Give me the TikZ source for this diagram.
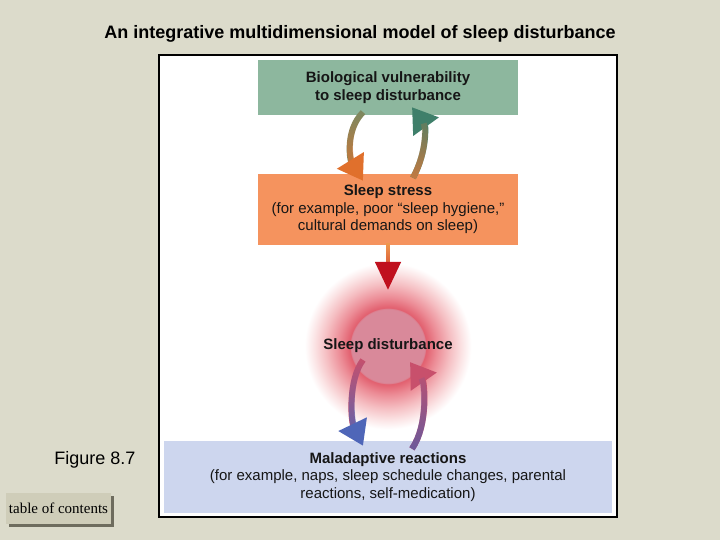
\documentclass[tikz,border=0pt]{standalone}
\usepackage{fontspec}
\setmainfont{Liberation Sans}
\newfontfamily\btnfont{Liberation Serif}
\usetikzlibrary{arrows.meta,fadings}
\definecolor{bgcol}{HTML}{DCDBCB}
\definecolor{greenbox}{HTML}{8DB79E}
\definecolor{orangebox}{HTML}{F5935E}
\definecolor{bluebox}{HTML}{CDD6EE}
\definecolor{txt}{HTML}{161616}
\definecolor{arrgreen}{HTML}{3F7F6A}
\definecolor{arrolive}{HTML}{7A8A62}
\definecolor{arrorange}{HTML}{E0702C}
\definecolor{arrbrown}{HTML}{C87A40}
\definecolor{arrlight}{HTML}{F2A050}
\definecolor{arrred}{HTML}{C0101E}
\definecolor{arrpink}{HTML}{C8506C}
\definecolor{arrblue}{HTML}{4F66B8}
\definecolor{arrpurple}{HTML}{6A5A9C}
\definecolor{btnfill}{HTML}{CFCDB9}
\definecolor{btnshadow}{HTML}{6E6C5E}
\definecolor{discin}{HTML}{D9899A}
\definecolor{glowred}{HTML}{E2606F}
\definecolor{glowmid}{HTML}{EC8C96}
\definecolor{glowlight}{HTML}{F5BEC2}
\definecolor{glowpale}{HTML}{FBE4E5}
\pgfdeclareradialshading{glow}{\pgfpoint{0bp}{0bp}}{color(0bp)=(discin); color(11.0bp)=(discin); color(11.4bp)=(glowred); color(14.5bp)=(glowmid); color(18.5bp)=(glowlight); color(22bp)=(glowpale); color(24.8bp)=(white); color(50bp)=(white)}
\tikzset{
  box/.style={fill=#1, draw=none, inner sep=0pt, align=center, text=txt,
    font=\fontsize{15}{17.5}\selectfont},
  % #1 colour at the top, #2 colour at the bottom, #3 colour of the head
  gradarr/.style n args={3}{line width=6pt, draw=#1,
    -{Triangle[width=30pt,length=24pt,color=#3]},
    postaction={draw=#2, path fading=north, arrows=-, shorten >=20pt}},
}
\begin{document}
\begin{tikzpicture}[x=1pt,y=-1pt]
\useasboundingbox (0,0) rectangle (720,540);
\fill[bgcol] (0,0) rectangle (720,540);
% title
\node[font=\bfseries\fontsize{18}{20}\selectfont, text=black] (title) at (360,34) {An integrative multidimensional model of sleep disturbance};
% frame
\draw[line width=2pt, fill=white] (159,55) rectangle (617,517);
% boxes
\node[box=greenbox, minimum width=260pt, minimum height=55pt] (bio) at (388,87.5)
  {\textbf{Biological vulnerability}\\\textbf{to sleep disturbance}};
\node[box=orangebox, minimum width=260pt, minimum height=71pt] (stress) at (388,209.5)
  {\textbf{Sleep stress}\\(for example, poor “sleep hygiene,”\\cultural demands on sleep)};
\node[box=bluebox, minimum width=448pt, minimum height=72pt] (mal) at (388,477)
  {\textbf{Maladaptive reactions}\\(for example, naps, sleep schedule changes, parental\\reactions, self-medication)};
% glow and disc
\shade[shading=glow] (388,346) circle (84);
\node[circle, minimum size=74pt, inner sep=0pt, text=txt,
  font=\bfseries\fontsize{15}{17.5}\selectfont] (dist) at (388,346) {Sleep disturbance};
% arrows (the two leading move-tos only widen the box that the colour fading fits)
\draw[gradarr={arrolive}{arrorange}{arrorange}]
  ([xshift=-22pt,yshift=3pt]bio.south) ([xshift=-28pt,yshift=3pt]bio.south)
  ([xshift=-25pt,yshift=3pt]bio.south) .. controls +(-18,18) and +(-13,-21) ..
  ([xshift=-25pt,yshift=-7pt]stress.north);
\draw[gradarr={arrgreen}{arrbrown}{arrgreen}]
  ([xshift=5pt,yshift=-4pt]stress.north) ([xshift=45pt,yshift=-4pt]stress.north)
  ([xshift=25pt,yshift=-4pt]stress.north) .. controls +(15,-28) and +(13,18) ..
  ([xshift=24pt,yshift=8pt]bio.south);
\draw[gradarr={arrlight}{arrred}{arrred}, line width=4.5pt, -{Triangle[width=25pt,length=28pt,color=arrred]}]
  ([xshift=-20pt,yshift=2pt]stress.south) ([xshift=20pt,yshift=2pt]stress.south)
  ([yshift=2pt]stress.south) -- ([yshift=-9pt]dist.north);
\draw[gradarr={arrpink}{arrblue}{arrblue}]
  ([shift={(-45,14)}]dist.center) ([shift={(-5,14)}]dist.center)
  ([shift={(-25,14)}]dist.center) .. controls +(-15,20) and +(-12,-25) ..
  ([xshift=-25pt,yshift=-5pt]mal.north);
\draw[gradarr={arrpink}{arrpurple}{arrpink}]
  ([xshift=4pt,yshift=-8pt]mal.north) ([xshift=44pt,yshift=-8pt]mal.north)
  ([xshift=24pt,yshift=-8pt]mal.north) .. controls +(17,-25) and +(14,20) ..
  ([shift={(22,16)}]dist.center);
% side labels
\node[font=\fontsize{18}{20}\selectfont, text=black] (fig) at (95,460) {Figure 8.7};
\fill[btnshadow] (9,496) rectangle (114,527);
\node[draw=none, fill=btnfill, minimum width=105pt, minimum height=31pt, inner sep=0pt,
  font=\btnfont\fontsize{15}{16}\selectfont, text=black] (toc) at (58.5,508.5) {table of contents};
\end{tikzpicture}
\end{document}
